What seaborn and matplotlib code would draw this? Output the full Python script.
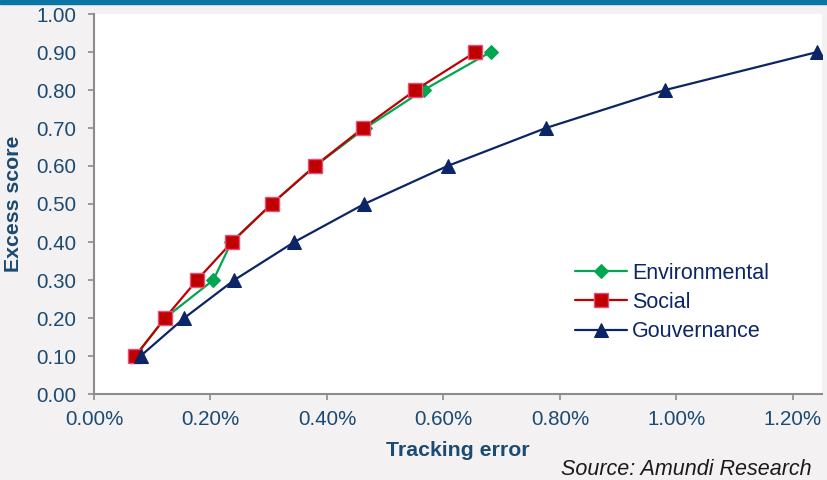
import numpy as np
import pandas as pd
import matplotlib
matplotlib.use("Agg")
import matplotlib.pyplot as plt
from matplotlib.patches import Rectangle
from matplotlib.ticker import FuncFormatter, MultipleLocator
import seaborn as sns

# excess score levels (y) and tracking error in % (x) for each pillar
score = [0.1, 0.2, 0.3, 0.4, 0.5, 0.6, 0.7, 0.8, 0.9]
te_env = [0.071, 0.122, 0.205, 0.236, 0.305, 0.380, 0.466, 0.566, 0.681]
te_soc = [0.071, 0.122, 0.177, 0.237, 0.305, 0.379, 0.462, 0.552, 0.655]
te_gov = [0.080, 0.155, 0.241, 0.344, 0.464, 0.607, 0.776, 0.981, 1.242]

env_df = pd.DataFrame({"te": te_env, "score": score})
soc_df = pd.DataFrame({"te": te_soc, "score": score})
gov_df = pd.DataFrame({"te": te_gov, "score": score})

sns.set_style("white")
plt.rcParams["font.family"] = ["Liberation Sans", "DejaVu Sans"]

bg = "#f3f1f2"
txt = "#1b4a72"
navy = "#0b2566"
fs = 14.8

fig = plt.figure(figsize=(8.27, 4.8), dpi=100, facecolor=bg)
fig.add_artist(Rectangle((0, 1 - 4 / 480), 1, 4 / 480, transform=fig.transFigure,
                         color="#0a76a3", zorder=5))
ax = fig.add_axes([94 / 827, 1 - 394 / 480, 728 / 827, 380 / 480])
ax.set_facecolor("white")

sns.lineplot(data=env_df, x="te", y="score", ax=ax, sort=False, color="#00a650",
             marker="D", markersize=7.5, markeredgecolor="#00a650", linewidth=1.6,
             label="Environmental")
sns.lineplot(data=soc_df, x="te", y="score", ax=ax, sort=False, color="#c00000",
             marker="s", markersize=10, markeredgecolor="#e8507a", markeredgewidth=1,
             linewidth=1.6, label="Social")
sns.lineplot(data=gov_df, x="te", y="score", ax=ax, sort=False, color=navy,
             marker="^", markersize=10.5, markeredgecolor=navy, linewidth=1.6,
             label="Gouvernance")

ax.set_xlim(0, 1.25)
ax.set_ylim(0, 1.0)
ax.xaxis.set_major_locator(MultipleLocator(0.2))
ax.yaxis.set_major_locator(MultipleLocator(0.1))
ax.xaxis.set_major_formatter(FuncFormatter(lambda v, p: f"{v:.2f}%"))
ax.yaxis.set_major_formatter(FuncFormatter(lambda v, p: f"{v:.2f}"))

for s in ["top", "right"]:
    ax.spines[s].set_visible(False)
for s in ["left", "bottom"]:
    ax.spines[s].set_color("#8c8c8c")
    ax.spines[s].set_linewidth(1.5)
ax.tick_params(axis="both", which="major", length=4.5, width=1.2, color="#8c8c8c",
               labelsize=fs, labelcolor=txt, direction="out")
ax.tick_params(axis="y", pad=8)
ax.tick_params(axis="x", pad=7)
ax.tick_params(left=True, bottom=True)

ax.set_xlabel("Tracking error", fontsize=15.3, fontweight="bold", color=txt, va="center")
ax.set_ylabel("Excess score", fontsize=15.3, fontweight="bold", color=txt, va="center")
ax.xaxis.set_label_coords(0.5, (394 - 450) / 380)
ax.yaxis.set_label_coords((14 - 94) / 728, 0.5)

leg = ax.legend(loc="center left", bbox_to_anchor=((575 - 94) / 728, (394 - 302.5) / 380),
                frameon=False, fontsize=15.5, handlelength=2.4, labelspacing=0.38,
                handletextpad=0.25, borderpad=0, borderaxespad=0)
for t in leg.get_texts():
    t.set_color(navy)

fig.text(812 / 827, 1 - 469.5 / 480, "Source: Amundi Research", ha="right", va="center",
         fontsize=15.5, style="italic", color="#1a1a1a")

fig.savefig("out.png", dpi=100, facecolor=bg)
